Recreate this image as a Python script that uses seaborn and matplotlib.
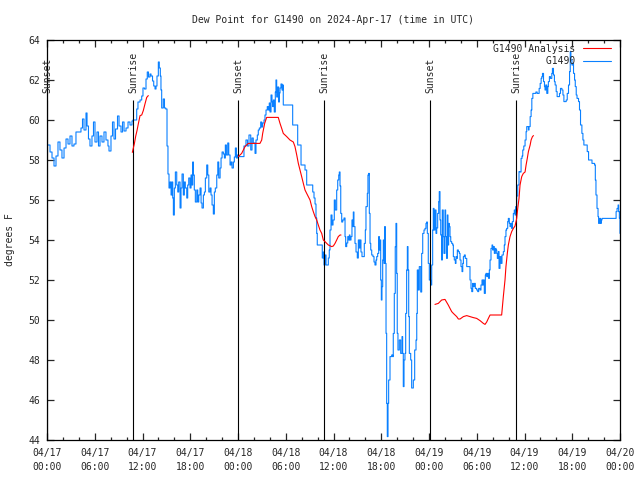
import pandas as pd
import seaborn as sns
import matplotlib.pyplot as plt
import matplotlib.dates as mdates
from matplotlib.lines import Line2D

start = pd.Timestamp('2024-04-17 00:00')

# observed dew point, hours after 04/17 00:00 UTC, degrees F
obs_hours = [0.13, 0.38, 0.63, 0.88, 1.13, 1.38, 1.63, 1.88, 2.14, 2.39, 2.64, 2.89, 3.14, 3.39, 3.64,
             4.02, 4.27, 4.46, 4.65, 4.9, 5.03, 5.21, 5.4, 5.65, 5.84, 6.03, 6.28, 6.47, 6.66, 6.91,
             7.16, 7.41, 7.66, 7.79, 8.04, 8.23, 8.42, 8.61, 8.86, 9.05, 9.3, 9.49, 9.68, 9.93, 10.18,
             10.43, 10.68,
             10.81, 11.06, 11.27, 11.43, 11.69, 11.9, 12.06, 12.25, 12.44, 12.6, 12.75, 12.94, 13.07,
             13.26, 13.41, 13.57, 13.7, 13.82, 13.99, 14.11, 14.24, 14.32, 14.41, 14.61, 14.76, 14.92,
             15.08, 15.2, 15.33, 15.46,
             15.59, 15.71, 15.8, 15.88, 16.0, 16.13, 16.3, 16.43, 16.55, 16.72, 16.84, 16.97, 17.13,
             17.26, 17.38, 17.56, 17.68, 17.81, 17.97, 18.1, 18.22, 18.31, 18.39, 18.51, 18.64, 18.82,
             18.94, 19.07, 19.23, 19.36, 19.48, 19.65, 19.78, 19.9, 20.07, 20.2, 20.33, 20.49, 20.61,
             20.74, 20.9, 21.03, 21.15, 21.33, 21.46, 21.58, 21.75, 21.87, 22.0, 22.16, 22.29, 22.41,
             22.54, 22.71, 22.84, 23.0, 23.13, 23.25, 23.42, 23.54, 23.67, 23.8, 23.92,
             24.04, 24.25, 24.5, 24.75, 25.0, 25.19, 25.38, 25.6, 25.76, 25.92, 26.14, 26.26, 26.43,
             26.55, 26.68, 26.85, 26.98, 27.1, 27.27, 27.39, 27.52, 27.68, 27.81, 27.93, 28.02, 28.15,
             28.27, 28.36, 28.44, 28.56, 28.69, 28.77, 28.86, 28.99, 29.11, 29.19, 29.28, 29.4, 29.53,
             29.62, 29.69, 29.91, 30.28, 30.75, 30.87, 31.16, 31.41, 31.5, 31.79, 31.92, 32.17, 32.42,
             32.63, 33.05, 33.26, 33.39, 33.55, 33.68, 33.8, 33.89, 33.96, 34.52, 34.59, 34.72, 34.81,
             34.93, 35.06, 35.22, 35.35, 35.47, 35.56, 35.69, 35.81, 35.94, 36.1, 36.23, 36.4, 36.53,
             36.66, 36.73, 36.82, 36.91, 37.03, 37.16, 37.32, 37.45, 37.53, 37.66, 37.79, 37.91, 37.99,
             38.07, 38.2, 38.32, 38.41, 38.49, 38.57, 38.7, 38.83, 38.99, 39.12, 39.24, 39.33, 39.45,
             39.58, 39.74, 39.87, 40.0, 40.08, 40.25, 40.33, 40.42, 40.5, 40.59, 40.68, 40.8, 40.96,
             41.09, 41.21, 41.34, 41.43, 41.55, 41.68, 41.76, 41.84, 41.93, 42.01, 42.09, 42.18, 42.26,
             42.35, 42.43, 42.51, 42.6, 42.68, 42.76, 42.85, 42.93, 43.1, 43.31, 43.43, 43.51, 43.64,
             43.76, 43.85, 43.94, 44.01, 44.1, 44.27, 44.44, 44.61, 44.69, 44.77, 44.86, 44.98, 45.07,
             45.19, 45.28, 45.36, 45.45, 45.53, 45.7, 45.82, 45.95, 46.03, 46.2, 46.37, 46.46, 46.53,
             46.66, 46.78, 46.96, 47.08, 47.21, 47.37, 47.5, 47.62, 47.71, 47.79, 47.91, 48.04, 48.21,
             48.34, 48.46, 48.54, 48.63, 48.75, 48.88, 48.97, 49.09, 49.22, 49.29, 49.38, 49.47, 49.59,
             49.67, 49.79, 49.88, 50.01, 50.09, 50.22, 50.3, 50.38, 50.47, 50.55, 50.64, 50.73, 50.85,
             50.98, 51.06, 51.18, 51.31, 51.39, 51.48, 51.56, 51.69, 51.81, 51.9, 52.02, 52.15, 52.24,
             52.32, 52.44, 52.56, 52.74, 52.9, 53.03, 53.15, 53.28, 53.37, 53.49, 53.57, 53.7, 53.82,
             53.99, 54.12, 54.24, 54.41, 54.53, 54.66, 54.75, 54.83, 54.95, 55.08, 55.16, 55.25, 55.38,
             55.5, 55.58, 55.67, 55.79, 55.92, 56.0, 56.09, 56.21, 56.34, 56.42, 56.51, 56.59, 56.71,
             56.8, 56.92, 57.05, 57.17, 57.26, 57.34, 57.46, 57.55, 57.67, 57.76, 57.89, 57.97, 58.09,
             58.18, 58.27, 58.39, 58.47, 58.6, 58.72, 58.81, 58.89, 59.02, 59.15, 59.31, 59.44, 59.57,
             59.69, 59.78, 59.91, 60.07, 60.2, 60.28, 60.41, 60.49, 60.57, 60.71, 60.83, 60.92, 61.05,
             61.21, 61.43, 61.59, 61.76, 61.84, 61.97, 62.09, 62.18, 62.26, 62.39, 62.51, 62.58, 62.67,
             62.8, 62.93, 63.0, 63.13, 63.26, 63.43, 63.51, 63.64, 63.76, 63.85, 63.98, 64.1, 64.27,
             64.4, 64.52, 64.7, 64.83, 64.95, 65.12, 65.24, 65.37, 65.53, 65.66, 65.75, 65.83, 65.96,
             66.08, 66.16, 66.29, 66.38, 66.5, 66.6, 66.79, 66.91, 67.04, 67.21, 67.34, 67.46, 67.63,
             67.76, 67.88, 68.05, 68.26, 68.48, 68.68, 68.81, 68.9, 68.98, 69.11, 69.24, 69.31, 69.44,
             69.56, 69.65, 69.74, 70.16, 70.79, 71.42, 71.51, 71.63, 71.76, 71.83, 71.92, 72.0]
obs_dewpt = [58.75, 58.4, 58.1, 57.7, 58.2, 58.9, 58.5, 58.1, 58.6, 59.05, 58.8, 59.2, 58.7, 58.8, 59.4,
             59.4, 59.6, 60.05, 59.5, 60.35, 59.7, 59.05, 58.7, 59.2, 59.9, 58.9, 59.4, 58.7, 59.2, 58.9,
             59.4, 59.0, 58.7, 58.45, 59.2, 59.9, 59.05, 59.55, 60.2, 59.7, 59.4, 59.9, 59.45, 59.6, 59.9,
             59.75, 59.95,
             60.0, 60.0, 60.55, 60.9, 61.0, 61.2, 61.6, 61.55, 62.05, 62.4, 62.15, 62.3, 62.2,
             61.95, 61.7, 61.55, 61.7, 62.2, 62.9, 62.6, 62.2, 61.5, 60.6, 61.05, 60.6, 60.55,
             58.7, 57.3, 56.6, 56.9,
             56.25, 56.9, 56.1, 55.25, 56.6, 57.4, 56.75, 56.4, 56.9, 55.6, 56.6, 57.3, 56.25,
             56.9, 56.6, 56.1, 56.75, 57.1, 56.6, 57.25, 56.75, 57.9, 57.25, 56.5, 55.9, 56.5,
             55.9, 56.25, 56.6, 55.85, 55.6, 56.25, 56.4, 57.1, 57.75, 57.25, 56.4, 56.6, 56.25,
             55.75, 55.3, 56.4, 56.6, 57.25, 57.9, 57.1, 57.6, 58.1, 58.4, 58.3, 58.1, 58.75,
             58.25, 58.85, 58.25, 57.75, 57.9, 57.6, 57.9, 58.15, 58.6, 58.1, 58.25,
             58.17, 58.17, 58.17, 58.7, 59.0, 58.7, 59.25, 58.5, 59.1, 58.85, 58.33, 59.0, 59.25,
             59.5, 59.6, 59.9, 59.65, 59.85, 60.0, 60.25, 60.5, 60.67, 60.5, 60.85, 60.4, 61.25,
             60.9, 60.67, 61.0, 60.4, 61.4, 62.0, 61.15, 61.65, 60.9, 61.35, 61.6, 61.8, 61.5,
             61.75, 60.75, 60.75, 60.75, 60.75, 59.75, 59.75, 59.75, 58.75, 58.75, 57.75, 57.75, 57.5,
             56.75, 56.75, 56.75, 56.4, 56.1, 55.8, 55.1, 54.33, 53.75, 53.75, 53.1, 53.4, 52.75,
             53.25, 52.75, 52.75, 53.1, 53.5, 54.5, 55.25, 54.75, 55.0, 56.0, 55.5, 56.5, 57.0,
             57.25, 57.4, 56.7, 55.33, 54.9, 55.0, 55.1, 54.17, 53.67, 53.85, 54.17, 54.0, 54.25,
             54.0, 54.17, 55.0, 54.67, 55.4, 54.67, 53.83, 53.4, 53.1, 54.0, 53.6, 54.0, 53.4,
             53.17, 53.17, 53.83, 54.5, 55.67, 56.33, 57.25, 57.33, 55.33, 53.83, 53.5, 53.25, 53.17,
             52.9, 52.75, 53.0, 53.17, 53.33, 54.17, 53.5, 54.0, 52.0, 51.0, 51.67, 53.0, 54.0,
             52.83, 54.67, 52.83, 49.33, 45.83, 44.17, 45.83, 47.0, 48.17, 48.25, 48.17, 49.33, 51.33,
             53.67, 54.83, 52.33, 49.33, 48.5, 49.0, 48.33, 49.17, 48.33, 46.67, 48.0, 48.33, 50.33,
             52.5, 53.67, 52.5, 50.17, 48.33, 48.0, 46.6, 46.6, 47.0, 48.5, 49.0, 50.33, 52.5,
             51.5, 52.67, 51.4, 53.33, 54.33, 54.5, 54.58, 54.83, 54.9, 54.33, 52.83, 52.0, 51.75,
             52.75, 54.5, 55.58, 54.5, 55.5, 54.33, 54.6, 55.33, 55.92, 56.42, 55.0, 54.25, 53.0,
             55.5, 54.17, 53.33, 55.5, 54.17, 53.08, 55.25, 53.75, 54.83, 54.67, 54.17, 53.92, 53.83,
             53.75, 53.17, 53.0, 52.83, 53.17, 53.08, 53.5, 53.42, 53.33, 53.0, 52.67, 52.42, 52.83,
             53.17, 53.25, 53.08, 52.67, 52.67, 52.67, 52.0, 51.58, 51.42, 51.83, 51.67, 51.83, 51.58,
             51.5, 51.42, 51.58, 51.5, 51.75, 52.0, 51.75, 52.0, 51.33, 52.25, 52.33, 52.17, 52.33,
             52.08, 52.5, 53.0, 53.58, 53.75, 53.5, 53.67, 53.33, 53.58, 53.5, 53.33, 53.08, 53.42,
             52.58, 53.17, 52.83, 53.25, 53.25, 53.42, 53.75, 54.17, 54.5, 54.58, 54.92, 55.08, 54.83,
             54.67, 54.83, 54.58, 54.92, 55.33, 55.5, 55.25, 55.67, 56.2, 56.75, 57.42, 57.4, 58.08,
             58.2, 58.5, 58.7, 59.0, 59.42, 59.67, 59.67, 59.5, 59.67, 60.17, 60.5, 61.08, 61.33,
             61.33, 61.4, 61.33, 61.33, 61.58, 61.83, 62.08, 62.17, 62.33, 61.92, 61.67, 61.5, 61.75,
             61.33, 61.67, 61.92, 62.17, 62.08, 62.33, 62.58, 62.25, 61.92, 61.75, 61.42, 61.17, 61.17,
             61.33, 61.58, 61.5, 61.25, 60.92, 60.92, 61.0, 61.33, 61.75, 62.42, 63.42, 63.0, 62.75,
             62.83, 62.33, 62.0, 61.67, 61.25, 61.08, 60.92, 60.5, 59.75, 59.33, 59.0, 58.75, 58.75,
             58.75, 58.42, 58.0, 58.0, 57.83, 57.83, 57.75, 57.0, 56.25, 55.58, 55.17, 54.83, 55.08,
             54.83, 55.0, 55.08, 55.08, 55.08, 55.08, 55.42, 55.58, 55.75, 55.42, 55.08, 54.33]

# model analysis, three separate runs
ana1_hours = [10.72, 10.97, 11.15, 11.31, 11.47, 11.69, 11.9, 12.1, 12.31, 12.53, 12.73]
ana1_dewpt = [58.38, 58.8, 59.2, 59.47, 59.8, 60.22, 60.25, 60.47, 60.8, 61.13, 61.22]
ana2_hours = [24.04, 24.46, 24.88, 25.29, 26.14, 26.76, 26.98, 27.1, 27.35, 27.6, 29.06, 29.28,
              29.49, 29.69, 30.12, 30.53, 30.95, 31.16, 31.38, 31.58, 31.79, 32.0, 32.21, 32.42,
              32.63, 33.05, 33.26, 33.46, 33.68, 33.89, 34.09, 34.3, 34.52, 34.72, 34.93, 35.15,
              35.35, 35.77, 35.98, 36.19, 36.4, 36.6, 36.82, 36.94]
ana2_dewpt = [58.17, 58.33, 58.67, 58.83, 58.83, 58.83, 59.0, 59.33, 59.83, 60.13, 60.13, 59.83,
              59.58, 59.33, 59.17, 59.0, 58.9, 58.67, 58.25, 57.83, 57.5, 57.17, 56.83, 56.5,
              56.33, 56.0, 55.67, 55.42, 55.17, 55.0, 54.75, 54.5, 54.33, 54.0, 53.92, 53.83,
              53.75, 53.67, 53.7, 53.83, 54.0, 54.17, 54.25, 54.25]
ana3_hours = [48.75, 49.17, 49.59, 50.01, 50.42, 50.64, 50.85, 51.06, 51.48, 51.69, 51.9, 52.32,
              52.74, 53.15, 53.57, 53.99, 54.41, 54.83, 55.04, 55.25, 55.46, 55.67, 57.13, 57.34,
              57.55, 57.67, 57.84, 57.97, 58.18, 58.39, 58.6, 58.81, 59.02, 59.15, 59.31, 59.44,
              59.65, 59.85, 60.07, 60.2, 60.35, 60.49, 60.71, 60.83, 61.0, 61.13]
ana3_dewpt = [50.78, 50.83, 51.0, 51.03, 50.75, 50.58, 50.42, 50.33, 50.17, 50.05, 50.05, 50.17,
              50.22, 50.17, 50.12, 50.08, 49.97, 49.83, 49.78, 49.9, 50.08, 50.25, 50.25, 51.17,
              52.0, 52.67, 53.33, 53.75, 54.17, 54.42, 54.58, 54.7, 55.08, 55.58, 56.08, 56.75,
              57.17, 57.33, 57.4, 57.75, 58.08, 58.42, 58.75, 59.0, 59.17, 59.22]

sun_hours = [0.0, 10.85, 24.04, 34.85, 48.17, 58.95]
sun_names = ['Sunset', 'Sunrise', 'Sunset', 'Sunrise', 'Sunset', 'Sunrise']

BLUE = '#0a80ff'
RED = '#ff0000'

sns.set_style('ticks')
plt.rcParams['font.family'] = ['DejaVu Sans Mono']
plt.rcParams['font.size'] = 7

obs = pd.DataFrame({'time': start + pd.to_timedelta(obs_hours, unit='h'), 'dewpt': obs_dewpt})
parts = []
for i, (h, d) in enumerate([(ana1_hours, ana1_dewpt), (ana2_hours, ana2_dewpt),
                            (ana3_hours, ana3_dewpt)]):
    parts.append(pd.DataFrame({'time': start + pd.to_timedelta(h, unit='h'), 'dewpt': d, 'seg': i}))
ana = pd.concat(parts, ignore_index=True)
sun_times = start + pd.to_timedelta(sun_hours, unit='h')

fig = plt.figure(figsize=(6.4, 4.8), dpi=100)
ax = fig.add_axes([47 / 640, 40 / 480, 573 / 640, 400 / 480])

sns.lineplot(data=obs, x='time', y='dewpt', ax=ax, color=BLUE, lw=0.8, estimator=None,
             sort=False, drawstyle='steps-post', zorder=2)
ax.vlines(sun_times, 44, 61, color='black', lw=0.8, zorder=3)
for t, name in zip(sun_times, sun_names):
    ax.text(t, 61.35, name, rotation=90, ha='center', va='bottom', fontsize=7)
sns.lineplot(data=ana, x='time', y='dewpt', units='seg', ax=ax, color=RED, lw=0.8,
             estimator=None, sort=False, zorder=4)

ax.set_xlim(start, start + pd.Timedelta(hours=72))
ax.set_ylim(44, 64)
ax.set_yticks(range(44, 65, 2))
ax.xaxis.set_major_locator(mdates.HourLocator(byhour=[0, 6, 12, 18]))
ax.xaxis.set_minor_locator(mdates.HourLocator(byhour=range(0, 24, 2)))
ax.xaxis.set_major_formatter(mdates.DateFormatter('%m/%d\n%H:%M'))
ax.tick_params(which='both', direction='in', top=True, right=True, labelsize=7, width=0.9)
ax.tick_params(which='major', length=5)
ax.tick_params(which='minor', length=2.5)
ax.tick_params(axis='x', pad=6)
ax.tick_params(axis='y', pad=5)
for s in ax.spines.values():
    s.set_linewidth(0.9)
    s.set_color('black')

ax.set_xlabel('')
ax.set_ylabel('degrees F', fontsize=7)
ax.yaxis.set_label_coords(-0.056, 0.5)
ax.set_title('Dew Point for G1490 on 2024-Apr-17 (time in UTC)', fontsize=7, pad=12)

handles = [Line2D([], [], color=RED, lw=0.8), Line2D([], [], color=BLUE, lw=0.8)]
ax.legend(handles, ['G1490 Analysis', '         G1490'], loc='upper right', frameon=False,
          markerfirst=False, handlelength=2.9, handletextpad=0.8, labelspacing=0.25,
          borderaxespad=0, borderpad=0.4, bbox_to_anchor=(1 - 5 / 573, 1), fontsize=7)

plt.setp(ax.get_xticklabels(), linespacing=1.45)
fig.savefig('out.png', dpi=100)
